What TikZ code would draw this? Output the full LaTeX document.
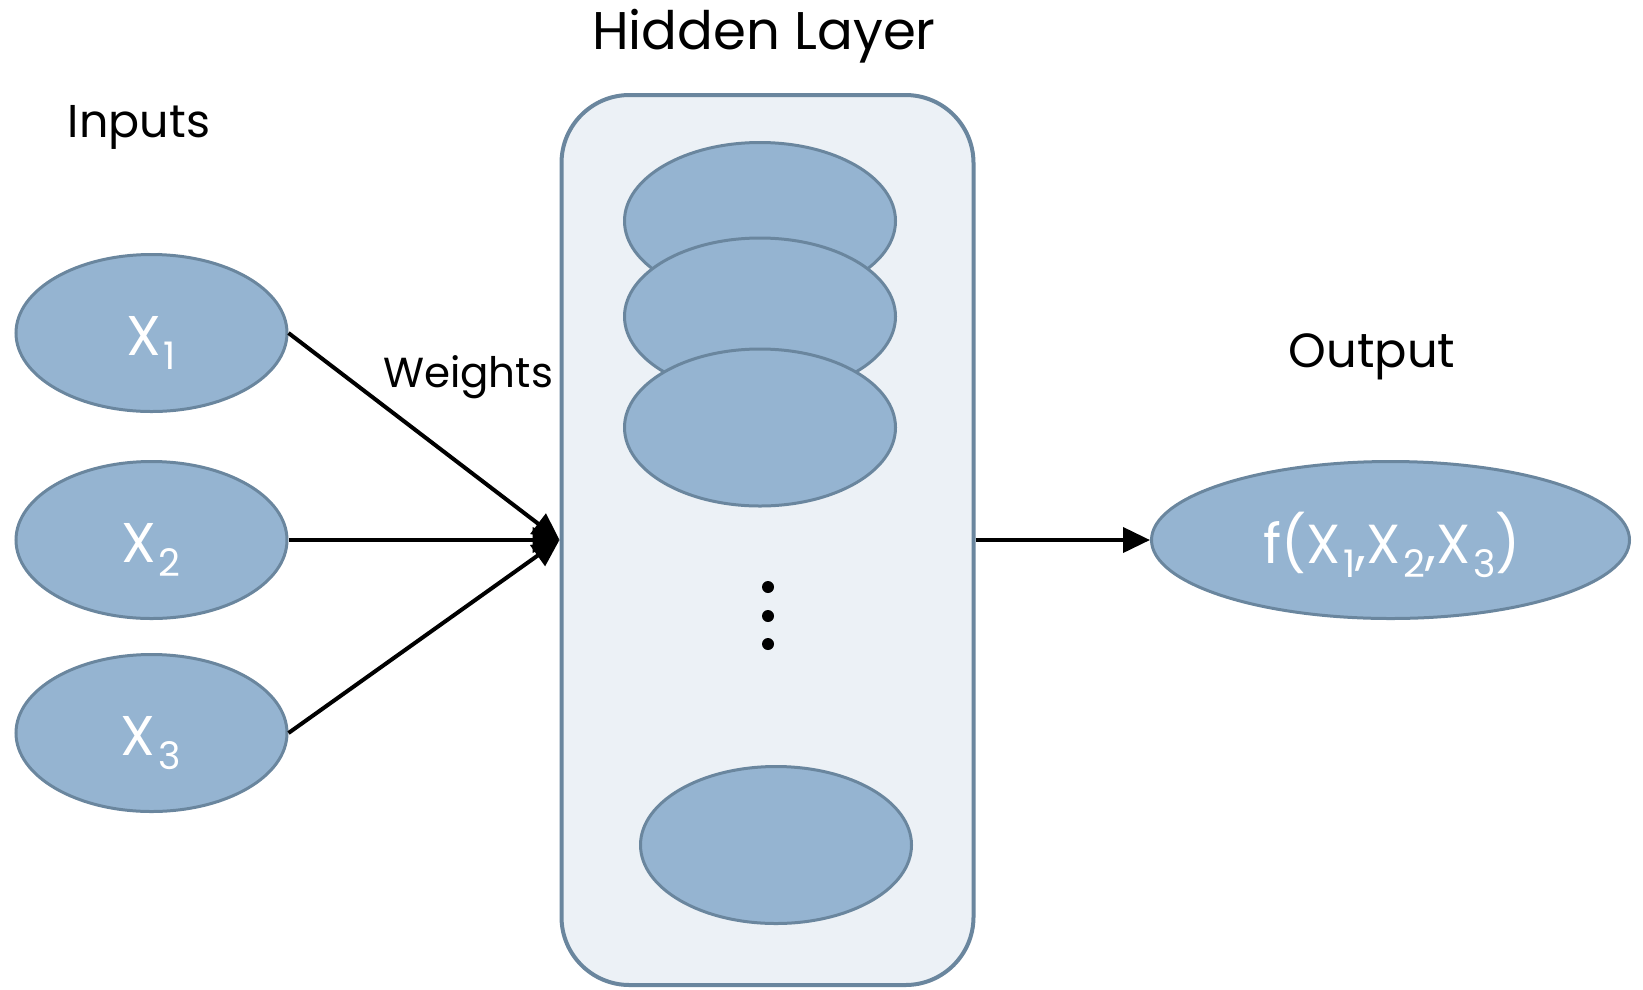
\documentclass[tikz,border=0pt]{standalone}
\usepackage{fontspec}
\setmainfont{Poppins}
\usetikzlibrary{shapes.geometric,arrows.meta}
\definecolor{ellfill}{RGB}{149,180,209}
\definecolor{ellline}{RGB}{106,134,158}
\definecolor{boxfill}{RGB}{236,241,246}
\newcommand{\fs}[1]{\fontsize{#1}{#1}\selectfont}
\newcommand{\subn}[1]{\kern3pt\raisebox{-14pt}{\fs{38}#1}}
\begin{document}
\begin{tikzpicture}[x=1pt,y=-1pt,
  neuron/.style={ellipse, draw=ellline, fill=ellfill, line width=3pt, inner sep=0pt,
    minimum width=271pt, minimum height=157pt},
  layerbox/.style={rectangle, draw=ellline, fill=boxfill, line width=4pt,
    rounded corners=68pt, minimum width=412pt, minimum height=890pt, inner sep=0pt},
  title/.style={anchor=base, inner sep=0pt, text=black},
  lbl/.style={anchor=base, inner sep=0pt, text=white, font=\fs{56}},
  dot/.style={circle, fill=black, inner sep=0pt, minimum size=12pt},
  conn/.style={line width=4pt, -{Triangle[length=27pt,width=25pt]}}
]
\useasboundingbox (0,0) rectangle (1643,989);

% hidden layer container
\node[layerbox] (box) at (767.5,540) {};

% hidden neurons
\node[neuron] (h1) at (760,221) {};
\node[neuron] (h2) at (760,316.5) {};
\node[neuron] (h3) at (760,427.5) {};
\node[neuron] (h4) at (776,845) {};
\node[dot] (d1) at (768,587) {};
\node[dot] (d2) at (768,616) {};
\node[dot] (d3) at (768,644) {};

% inputs
\node[neuron] (x1) at (151.5,333) {};
\node[neuron] (x2) at (151.5,540) {};
\node[neuron] (x3) at (151.5,733) {};
\node[lbl] (tx1) at (151,355) {X\subn{1}};
\node[lbl] (tx2) at (151,562) {X\subn{2}};
\node[lbl] (tx3) at (151,755) {X\subn{3}};

% output
\node[neuron, minimum width=478pt] (out) at (1390.5,540) {};
\node[lbl, font=\fs{55}] (tout) at (1392,563) {f(X\subn{1},X\subn{2},X\subn{3})};

% titles
\node[title, font=\fs{53}] (thid) at (764,49) {Hidden Layer};
\node[title, font=\fs{46}] (tin) at (139,137) {Inputs};
\node[title, font=\fs{42}] (tw) at (468,387) {Weights};
\node[title, font=\fs{48}] (tou) at (1372,367) {Output};

% connectors
\draw[conn] (x1.east) -- (box.west);
\draw[conn] (x2.east) -- (box.west);
\draw[conn] (x3.east) -- (box.west);
\draw[conn] (box.east) -- (out.west);
\end{tikzpicture}
\end{document}
